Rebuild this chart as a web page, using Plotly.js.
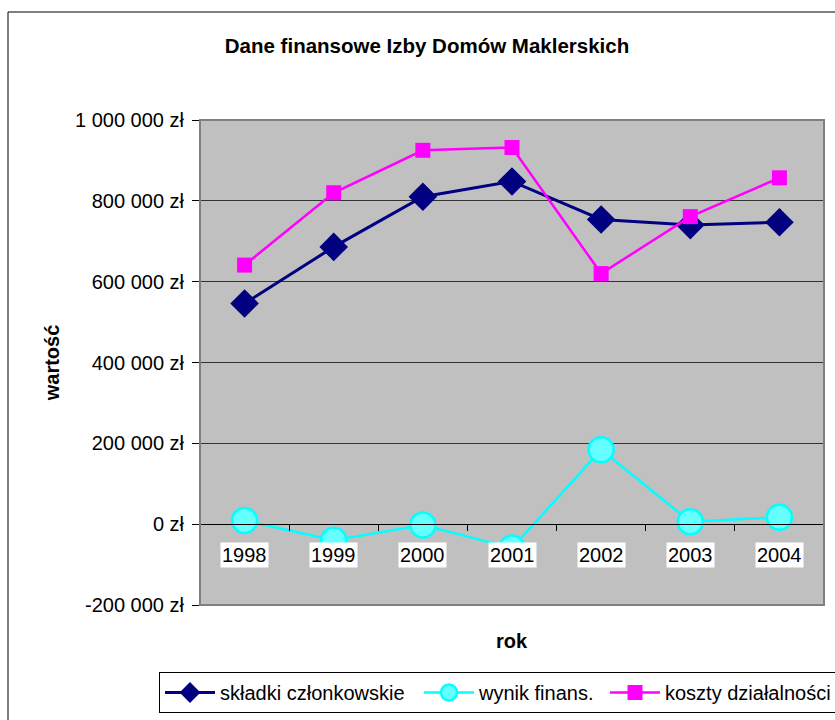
<!DOCTYPE html>
<html>
<head>
<meta charset="utf-8">
<script src="https://cdn.plot.ly/plotly-3.0.1.min.js"></script>
<style>html,body{margin:0;padding:0;background:#fff;}#chart{width:835px;height:720px;}</style>
</head>
<body>
<div id="chart"></div>
<script>
var years = ['1998', '1999', '2000', '2001', '2002', '2003', '2004'];
var skladki = [546000, 686000, 810000, 848000, 754000, 740000, 747000];
var wynik = [9000, -40000, -2000, -59000, 184000, 6000, 17000];
var koszty = [641000, 820000, 925000, 932000, 620000, 761000, 857000];
var yTickVals = [-200000, 0, 200000, 400000, 600000, 800000, 1000000];
var yTickText = ['-200 000 zł', '0 zł', '200 000 zł', '400 000 zł', '600 000 zł', '800 000 zł', '1 000 000 zł'];
var seriesNames = ['składki członkowskie', 'wynik finans.', 'koszty działalności'];

var FONT = 'Liberation Sans, Arial, sans-serif';
var yMin = -200000, yMax = 1000000;

var W = 835, H = 720, mL = 200, mR = 11, mT = 120, mB = 115;
var paperH = H - mT - mB, paperW = W - mL - mR;
function py(px) { return (H - mB - px) / paperH; }
function pxx(px) { return (px - mL) / paperW; }

var traces = [
  {
    x: years, y: skladki, name: seriesNames[0], type: 'scatter', mode: 'lines+markers',
    line: {color: '#000080', width: 3},
    marker: {symbol: 'diamond', size: 22, color: '#000080'},
    legendwidth: 194
  },
  {
    x: years, y: wynik, name: seriesNames[1], type: 'scatter', mode: 'lines+markers',
    line: {color: '#00FFFF', width: 2.5},
    marker: {symbol: 'circle', size: 25, color: '#66FFFF', line: {color: '#00FFFF', width: 2.5}},
    legendwidth: 121
  },
  {
    x: years, y: koszty, name: seriesNames[2], type: 'scatter', mode: 'lines+markers',
    line: {color: '#FF00FF', width: 2.5},
    marker: {symbol: 'square', size: 15, color: '#FF00FF'}
  }
];

var annotations = years.map(function (yr, i) {
  return {
    x: i, y: 0, xref: 'x', yref: 'y', text: yr, showarrow: false,
    yanchor: 'top', yshift: -18, bgcolor: '#FFFFFF', borderpad: 1,
    font: {family: FONT, size: 20, color: '#000'}
  };
});
annotations.push({
  x: 0.5, y: py(641), xref: 'paper', yref: 'paper', text: 'rok', showarrow: false,
  yanchor: 'middle', font: {family: FONT, size: 20, color: '#000', weight: 'bold'}
});

var layout = {
  width: W, height: H,
  margin: {l: mL, r: mR, t: mT, b: mB, autoexpand: false},
  paper_bgcolor: '#FFFFFF',
  plot_bgcolor: '#C0C0C0',
  font: {family: FONT, size: 20, color: '#000'},
  title: {
    text: 'Dane finansowe Izby Domów Maklerskich',
    font: {family: FONT, size: 20.5, color: '#000', weight: 'bold'},
    xref: 'container', x: 0.5114, xanchor: 'center',
    yref: 'container', y: 0.936, yanchor: 'middle'
  },
  xaxis: {
    type: 'category', anchor: 'free',
    position: (0 - yMin) / (yMax - yMin),
    showline: true, linecolor: '#000', linewidth: 1,
    ticks: 'outside', tickson: 'boundaries', ticklen: 6, tickcolor: '#000',
    showticklabels: false, showgrid: false, zeroline: false,
    range: [-0.5, 6.5], fixedrange: true
  },
  yaxis: {
    range: [yMin, yMax], tickvals: yTickVals, ticktext: yTickText,
    ticks: 'outside', ticklen: 7, tickcolor: '#000', ticklabelstandoff: 4,
    showgrid: true, gridcolor: '#333333', gridwidth: 1, zeroline: false,
    showline: false,
    tickfont: {family: FONT, size: 20, color: '#000'},
    title: {text: 'wartość', font: {family: FONT, size: 20, color: '#000', weight: 'bold'}, standoff: 10},
    automargin: false, fixedrange: true
  },
  showlegend: true,
  legend: {
    orientation: 'h', xref: 'paper', yref: 'paper',
    x: pxx(159), y: py(672), xanchor: 'left', yanchor: 'top',
    bordercolor: '#000', borderwidth: 1, bgcolor: '#FFFFFF',
    font: {family: FONT, size: 20, color: '#000'},
    itemwidth: 50, tracegroupgap: 0
  },
  shapes: [
    {type: 'rect', xref: 'paper', yref: 'paper', x0: 0, x1: 1, y0: 0, y1: 1,
     line: {color: '#808080', width: 2}, fillcolor: 'rgba(0,0,0,0)', layer: 'above'},
    {type: 'rect', xref: 'paper', yref: 'paper', x0: pxx(8), x1: 1.2, y0: -0.4, y1: py(12),
     line: {color: '#000', width: 1}, fillcolor: 'rgba(0,0,0,0)', layer: 'below'}
  ],
  annotations: annotations
};

Plotly.newPlot('chart', traces, layout, {displayModeBar: false, staticPlot: true});
</script>
</body>
</html>
